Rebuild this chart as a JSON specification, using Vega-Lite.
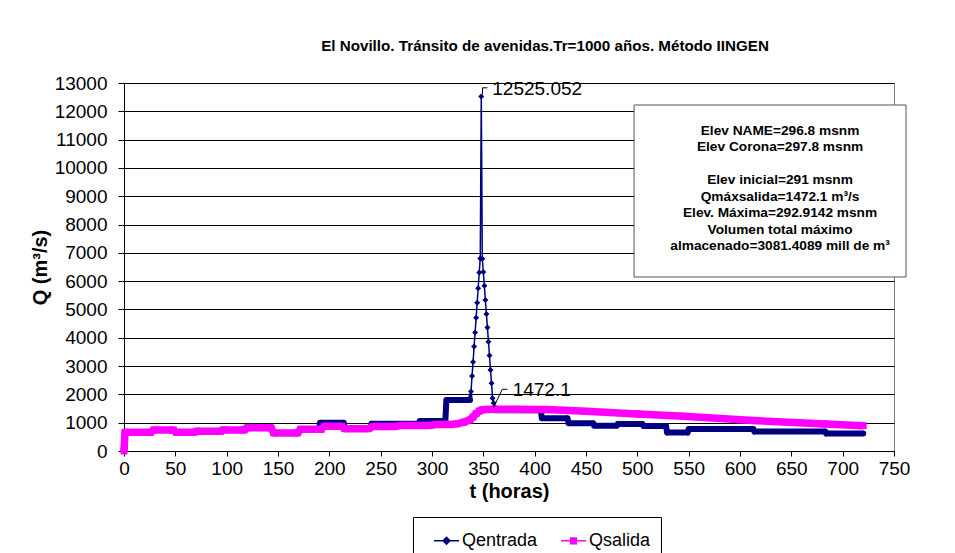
{
  "$schema": "https://vega.github.io/schema/vega-lite/v6.json",
  "width": 770,
  "height": 368,
  "autosize": "none",
  "padding": {"left": 124, "top": 83, "right": 61, "bottom": 102},
  "background": "white",
  "config": {
    "view": {"stroke": "#808080"},
    "font": "Liberation Sans",
    "axisX": {"grid": false, "labelFontSize": 19, "labelColor": "black", "labelPadding": 3, "labelFlush": false, "labelOverlap": false, "tickSize": 5, "tickColor": "black", "domainColor": "black", "titleFontSize": 20, "titleFontWeight": "bold", "titleColor": "black", "titlePadding": 3},
    "axisY": {"grid": true, "gridColor": "black", "gridOpacity": 1, "labelFontSize": 19, "labelColor": "black", "labelPadding": 11, "labelFlush": false, "labelOverlap": false, "tickSize": 6, "tickColor": "black", "domainColor": "black", "titleFontSize": 20, "titleFontWeight": "bold", "titleColor": "black", "titlePadding": 4}
  },
  "title": {"text": "El Novillo. Tránsito de avenidas.Tr=1000 años. Método IINGEN", "fontSize": 15.2, "fontWeight": "bold", "color": "black", "anchor": "middle", "dx": 36, "offset": 20},
  "datasets": {
    "entrada": [
      {"t":0,"q":0},{"t":1,"q":660},{"t":27,"q":660},{"t":28,"q":700},{"t":29,"q":740},{"t":49,"q":740},{"t":50,"q":700},{"t":51,"q":660},{"t":69,"q":660},{"t":70,"q":700},{"t":95,"q":700},{"t":96,"q":745},{"t":118,"q":745},{"t":119,"q":820},{"t":144,"q":820},{"t":145,"q":640},{"t":170,"q":640},{"t":171,"q":765},{"t":190,"q":765},{"t":191,"q":1000},{"t":214,"q":1000},{"t":215,"q":790},{"t":240,"q":790},{"t":241,"q":960},{"t":287,"q":960},{"t":288,"q":1060},{"t":313,"q":1060},{"t":314,"q":1800},{"t":337,"q":1800},
      {"t":338,"q":2100},{"t":339,"q":2650},{"t":340,"q":3140},{"t":341,"q":3690},{"t":342,"q":4190},{"t":343,"q":4710},{"t":344,"q":5240},{"t":345,"q":5750},{"t":346,"q":6310},{"t":347,"q":6800},{"t":348,"q":12525.052},
      {"t":349,"q":6790},{"t":350,"q":6320},{"t":351,"q":5840},{"t":352,"q":5330},{"t":353,"q":4840},{"t":354,"q":4360},{"t":355,"q":3860},{"t":356,"q":3370},{"t":357,"q":2860},{"t":358,"q":2390},{"t":359,"q":1860},{"t":360,"q":1700},{"t":361,"q":1560},
      {"t":362,"q":1440},{"t":406,"q":1440},{"t":407,"q":1155},{"t":432,"q":1155},{"t":433,"q":980},{"t":457,"q":980},{"t":458,"q":895},{"t":480,"q":895},{"t":481,"q":955},{"t":505,"q":955},{"t":506,"q":885},{"t":528,"q":885},{"t":529,"q":650},{"t":549,"q":650},{"t":550,"q":775},{"t":613,"q":775},{"t":614,"q":685},{"t":683,"q":685},{"t":684,"q":615},{"t":720,"q":615}
    ],
    "salida": [
      {"t":0,"q":0},{"t":1,"q":660},{"t":26,"q":660},{"t":29,"q":740},{"t":48,"q":740},{"t":51,"q":660},{"t":68,"q":660},{"t":71,"q":700},{"t":94,"q":700},{"t":97,"q":745},{"t":117,"q":745},{"t":120,"q":820},{"t":143,"q":820},{"t":146,"q":640},{"t":169,"q":640},{"t":172,"q":765},{"t":192,"q":765},{"t":195,"q":870},{"t":212,"q":870},{"t":215,"q":790},{"t":238,"q":790},{"t":243,"q":865},{"t":264,"q":865},{"t":270,"q":905},{"t":298,"q":905},{"t":304,"q":935},{"t":318,"q":935},{"t":325,"q":965},{"t":331,"q":1020},{"t":337,"q":1100},{"t":340,"q":1200},{"t":343,"q":1320},{"t":346,"q":1410},{"t":349,"q":1455},{"t":353,"q":1470},{"t":361,"q":1472.1},{"t":380,"q":1471},{"t":400,"q":1469},{"t":412,"q":1465},{"t":450,"q":1400},{"t":500,"q":1310},{"t":545,"q":1225},{"t":613,"q":1075},{"t":683,"q":955},{"t":720,"q":895}
    ],
    "uno": [{}]
  },
  "layer": [
    {
      "data": {"name": "entrada"},
      "mark": {"type": "trail"},
      "encoding": {
        "x": {"field": "t", "type": "quantitative", "scale": {"domain": [0, 750], "nice": false}, "axis": {"title": "t (horas)", "values": [0,50,100,150,200,250,300,350,400,450,500,550,600,650,700,750]}},
        "y": {"field": "q", "type": "quantitative", "scale": {"domain": [0, 13000], "nice": false}, "axis": {"title": "Q (m³/s)", "values": [0,1000,2000,3000,4000,5000,6000,7000,8000,9000,10000,11000,12000,13000], "format": "d"}},
        "color": {"datum": "Qentrada", "type": "nominal",
          "scale": {"domain": ["Qentrada", "Qsalida"], "range": ["#000080", "#FF00FF"]},
          "legend": {"title": null, "orient": "none", "legendX": 289, "legendY": 434, "direction": "horizontal", "strokeColor": "black", "padding": 10, "symbolOffset": 10, "labelFontSize": 18, "labelColor": "black", "labelOffset": 2, "columnPadding": 12, "symbolSize": 625,
            "encode": {"symbols": {"update": {
              "shape": {"signal": "datum.value === 'Qentrada' ? 'M-1,0L1,0M0,-0.27L0.27,0L0,0.27L-0.27,0Z' : 'M-1,0L1,0M-0.23,-0.23L0.23,-0.23L0.23,0.23L-0.23,0.23Z'"},
              "fill": {"signal": "datum.value === 'Qentrada' ? '#000080' : '#FF00FF'"},
              "stroke": {"signal": "datum.value === 'Qentrada' ? '#000080' : '#FF00FF'"},
              "strokeWidth": {"value": 1.5},
              "size": {"value": 625},
              "opacity": {"value": 1},
              "fillOpacity": {"value": 1}
            }}}}},
        "size": {"condition": {"test": "datum.t >= 338 && datum.t <= 361", "value": 1.5}, "value": 6},
        "order": {"field": "t", "type": "quantitative"}
      }
    },
    {
      "data": {"name": "entrada"},
      "mark": {"type": "point", "shape": "diamond", "filled": true, "size": 36, "opacity": 1},
      "encoding": {
        "x": {"field": "t", "type": "quantitative", "scale": {"domain": [0, 750], "nice": false}, "axis": {"title": "t (horas)", "values": [0,50,100,150,200,250,300,350,400,450,500,550,600,650,700,750]}},
        "y": {"field": "q", "type": "quantitative", "scale": {"domain": [0, 13000], "nice": false}, "axis": {"title": "Q (m³/s)", "values": [0,1000,2000,3000,4000,5000,6000,7000,8000,9000,10000,11000,12000,13000], "format": "d"}},
        "color": {"datum": "Qentrada", "type": "nominal"}
      }
    },
    {
      "data": {"name": "salida"},
      "mark": {"type": "line", "strokeWidth": 7.5, "strokeJoin": "round"},
      "encoding": {
        "x": {"field": "t", "type": "quantitative", "scale": {"domain": [0, 750], "nice": false}, "axis": {"title": "t (horas)", "values": [0,50,100,150,200,250,300,350,400,450,500,550,600,650,700,750]}},
        "y": {"field": "q", "type": "quantitative", "scale": {"domain": [0, 13000], "nice": false}, "axis": {"title": "Q (m³/s)", "values": [0,1000,2000,3000,4000,5000,6000,7000,8000,9000,10000,11000,12000,13000], "format": "d"}},
        "color": {"datum": "Qsalida", "type": "nominal"}
      }
    },
    {
      "data": {"name": "salida"},
      "mark": {"type": "point", "shape": "square", "filled": true, "size": 49, "opacity": 1},
      "encoding": {
        "x": {"field": "t", "type": "quantitative", "scale": {"domain": [0, 750], "nice": false}, "axis": {"title": "t (horas)", "values": [0,50,100,150,200,250,300,350,400,450,500,550,600,650,700,750]}},
        "y": {"field": "q", "type": "quantitative", "scale": {"domain": [0, 13000], "nice": false}, "axis": {"title": "Q (m³/s)", "values": [0,1000,2000,3000,4000,5000,6000,7000,8000,9000,10000,11000,12000,13000], "format": "d"}},
        "color": {"datum": "Qsalida", "type": "nominal"}
      }
    },
    {
      "data": {"name": "entrada"},
      "transform": [{"filter": {"field": "t", "equal": 348}}],
      "mark": {"type": "text", "align": "left", "baseline": "middle", "dx": 11, "dy": -7, "fontSize": 19, "color": "black"},
      "encoding": {
        "x": {"field": "t", "type": "quantitative", "scale": {"domain": [0, 750], "nice": false}, "axis": {"title": "t (horas)", "values": [0,50,100,150,200,250,300,350,400,450,500,550,600,650,700,750]}},
        "y": {"field": "q", "type": "quantitative", "scale": {"domain": [0, 13000], "nice": false}, "axis": {"title": "Q (m³/s)", "values": [0,1000,2000,3000,4000,5000,6000,7000,8000,9000,10000,11000,12000,13000], "format": "d"}},
        "text": {"field": "q", "type": "quantitative", "format": ".3f"}
      }
    },
    {
      "data": {"name": "salida"},
      "transform": [{"filter": {"field": "t", "equal": 361}}],
      "mark": {"type": "text", "align": "left", "baseline": "middle", "dx": 18, "dy": -19, "fontSize": 19, "color": "black"},
      "encoding": {
        "x": {"field": "t", "type": "quantitative", "scale": {"domain": [0, 750], "nice": false}, "axis": {"title": "t (horas)", "values": [0,50,100,150,200,250,300,350,400,450,500,550,600,650,700,750]}},
        "y": {"field": "q", "type": "quantitative", "scale": {"domain": [0, 13000], "nice": false}, "axis": {"title": "Q (m³/s)", "values": [0,1000,2000,3000,4000,5000,6000,7000,8000,9000,10000,11000,12000,13000], "format": "d"}},
        "text": {"field": "q", "type": "quantitative", "format": ".1f"}
      }
    },
    {
      "data": {"name": "uno"},
      "mark": {"type": "rule", "color": "black", "strokeWidth": 1},
      "encoding": {
        "x": {"datum": 359.7, "type": "quantitative", "scale": {"domain": [0, 750], "nice": false}, "axis": {"title": "t (horas)", "values": [0,50,100,150,200,250,300,350,400,450,500,550,600,650,700,750]}},
        "x2": {"datum": 368.4},
        "y": {"datum": 1519, "type": "quantitative", "scale": {"domain": [0, 13000], "nice": false}, "axis": {"title": "Q (m³/s)", "values": [0,1000,2000,3000,4000,5000,6000,7000,8000,9000,10000,11000,12000,13000], "format": "d"}},
        "y2": {"datum": 2180}
      }
    },
    {
      "data": {"name": "uno"},
      "mark": {"type": "rule", "color": "black", "strokeWidth": 1},
      "encoding": {
        "x": {"datum": 368.4, "type": "quantitative", "scale": {"domain": [0, 750], "nice": false}, "axis": {"title": "t (horas)", "values": [0,50,100,150,200,250,300,350,400,450,500,550,600,650,700,750]}},
        "x2": {"datum": 373.4},
        "y": {"datum": 2180, "type": "quantitative", "scale": {"domain": [0, 13000], "nice": false}, "axis": {"title": "Q (m³/s)", "values": [0,1000,2000,3000,4000,5000,6000,7000,8000,9000,10000,11000,12000,13000], "format": "d"}}
      }
    },
    {
      "data": {"name": "uno"},
      "mark": {"type": "rule", "color": "black", "strokeWidth": 1},
      "encoding": {
        "x": {"datum": 349.2, "type": "quantitative", "scale": {"domain": [0, 750], "nice": false}, "axis": {"title": "t (horas)", "values": [0,50,100,150,200,250,300,350,400,450,500,550,600,650,700,750]}},
        "y": {"datum": 12600, "type": "quantitative", "scale": {"domain": [0, 13000], "nice": false}, "axis": {"title": "Q (m³/s)", "values": [0,1000,2000,3000,4000,5000,6000,7000,8000,9000,10000,11000,12000,13000], "format": "d"}},
        "y2": {"datum": 12830}
      }
    },
    {
      "data": {"name": "uno"},
      "mark": {"type": "rule", "color": "black", "strokeWidth": 1},
      "encoding": {
        "x": {"datum": 349.2, "type": "quantitative", "scale": {"domain": [0, 750], "nice": false}, "axis": {"title": "t (horas)", "values": [0,50,100,150,200,250,300,350,400,450,500,550,600,650,700,750]}},
        "x2": {"datum": 354},
        "y": {"datum": 12830, "type": "quantitative", "scale": {"domain": [0, 13000], "nice": false}, "axis": {"title": "Q (m³/s)", "values": [0,1000,2000,3000,4000,5000,6000,7000,8000,9000,10000,11000,12000,13000], "format": "d"}}
      }
    },
    {
      "data": {"name": "uno"},
      "mark": {"type": "rect", "fill": "white", "stroke": "#555555", "strokeWidth": 1},
      "encoding": {
        "x": {"datum": 496.8, "type": "quantitative", "scale": {"domain": [0, 750], "nice": false}, "axis": {"title": "t (horas)", "values": [0,50,100,150,200,250,300,350,400,450,500,550,600,650,700,750]}},
        "x2": {"datum": 761.7},
        "y": {"datum": 12223, "type": "quantitative", "scale": {"domain": [0, 13000], "nice": false}, "axis": {"title": "Q (m³/s)", "values": [0,1000,2000,3000,4000,5000,6000,7000,8000,9000,10000,11000,12000,13000], "format": "d"}},
        "y2": {"datum": 6147}
      }
    },
    {
      "data": {"name": "uno"},
      "mark": {"type": "text", "align": "center", "baseline": "top", "fontSize": 13.7, "fontWeight": "bold", "color": "black", "lineHeight": 16.4,
        "text": ["Elev NAME=296.8 msnm", "Elev Corona=297.8 msnm"]},
      "encoding": {
        "x": {"datum": 639, "type": "quantitative", "scale": {"domain": [0, 750], "nice": false}, "axis": {"title": "t (horas)", "values": [0,50,100,150,200,250,300,350,400,450,500,550,600,650,700,750]}},
        "y": {"datum": 11569, "type": "quantitative", "scale": {"domain": [0, 13000], "nice": false}, "axis": {"title": "Q (m³/s)", "values": [0,1000,2000,3000,4000,5000,6000,7000,8000,9000,10000,11000,12000,13000], "format": "d"}}
      }
    },
    {
      "data": {"name": "uno"},
      "mark": {"type": "text", "align": "center", "baseline": "top", "fontSize": 13.7, "fontWeight": "bold", "color": "black", "lineHeight": 16.4,
        "text": ["Elev inicial=291 msnm", "Qmáxsalida=1472.1 m³/s", "Elev. Máxima=292.9142 msnm", "Volumen total máximo", "almacenado=3081.4089 mill de m³"]},
      "encoding": {
        "x": {"datum": 639, "type": "quantitative", "scale": {"domain": [0, 750], "nice": false}, "axis": {"title": "t (horas)", "values": [0,50,100,150,200,250,300,350,400,450,500,550,600,650,700,750]}},
        "y": {"datum": 9803, "type": "quantitative", "scale": {"domain": [0, 13000], "nice": false}, "axis": {"title": "Q (m³/s)", "values": [0,1000,2000,3000,4000,5000,6000,7000,8000,9000,10000,11000,12000,13000], "format": "d"}}
      }
    }
  ]
}
